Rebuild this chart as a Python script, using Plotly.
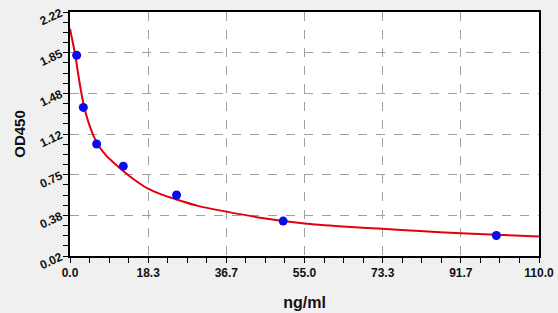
import numpy as np
import plotly.graph_objects as go

# Standard points (concentration ng/ml, OD450)
conc = [1.56, 3.125, 6.25, 12.5, 25, 50, 100]
od = [1.83, 1.36, 1.03, 0.83, 0.57, 0.335, 0.205]

# Fitted curve
curve_x = [0, 0.63, 1.25, 1.88, 2.66, 3.44, 4.38, 5.79, 6.96, 8.5, 10, 12.83, 15.17, 18.29,
           21.41, 24.56, 30, 36.7, 45, 55, 64, 73.3, 82, 91.7, 100, 110]
curve_y = [2.07, 1.95, 1.83, 1.67, 1.49, 1.345, 1.22, 1.08, 1.0, 0.925, 0.87, 0.775, 0.705, 0.627,
           0.576, 0.535, 0.472, 0.42, 0.363, 0.313, 0.286, 0.265, 0.245, 0.225, 0.211, 0.196]

x_ticklabels = ["0.0", "18.3", "36.7", "55.0", "73.3", "91.7", "110.0"]
y_ticklabels = ["0.02", "0.38", "0.75", "1.12", "1.48", "1.85", "2.22"]

x_range = [0, 110]
y_range = [0.02, 2.22]

x_ticks = np.linspace(x_range[0], x_range[1], len(x_ticklabels))
y_ticks = np.linspace(y_range[0], y_range[1], len(y_ticklabels))
x_minor = np.linspace(x_range[0], x_range[1], (len(x_ticklabels) - 1) * 4 + 1)
y_minor = np.linspace(y_range[0], y_range[1], (len(y_ticklabels) - 1) * 4 + 1)

fig = go.Figure()
fig.add_trace(go.Scatter(x=curve_x, y=curve_y, mode="lines",
                         line=dict(color="#e00010", width=2, shape="spline", smoothing=0.8),
                         hoverinfo="skip", showlegend=False))
fig.add_trace(go.Scatter(x=conc, y=od, mode="markers",
                         marker=dict(color="#0a0ae6", size=9, line=dict(width=0)),
                         showlegend=False))

font_family = "Arial, Liberation Sans, sans-serif"

axis_common = dict(
    showline=True, linecolor="black", linewidth=1.5, mirror=True,
    ticks="outside", ticklen=5, tickcolor="black", tickwidth=1,
    showgrid=True, gridcolor="#a0a0a0", griddash="dash", gridwidth=1,
    zeroline=False, automargin=False,
    tickfont=dict(family=font_family, size=12, color="#111111", weight="bold"),
)

fig.update_xaxes(
    range=x_range, tickmode="array", tickvals=x_ticks, ticktext=x_ticklabels,
    minor=dict(tickmode="array", tickvals=x_minor, ticks="outside", ticklen=5,
               tickcolor="black", showgrid=False),
    title=dict(text="ng/ml", font=dict(family=font_family, size=16, color="#111111", weight="bold"),
               standoff=18),
    **axis_common,
)
fig.update_yaxes(
    range=y_range, tickmode="array", tickvals=y_ticks, ticktext=y_ticklabels,
    tickangle=-25,
    minor=dict(tickmode="array", tickvals=y_minor, ticks="outside", ticklen=5,
               tickcolor="black", showgrid=False),
    title=dict(text="OD450", font=dict(family=font_family, size=15, color="#111111", weight="bold"),
               standoff=8),
    **axis_common,
)

fig.update_layout(
    width=558, height=313,
    margin=dict(l=70, r=19, t=12, b=57),
    paper_bgcolor="#f0f0f0",
    plot_bgcolor="white",
    showlegend=False,
)

fig.write_html("out.html")
